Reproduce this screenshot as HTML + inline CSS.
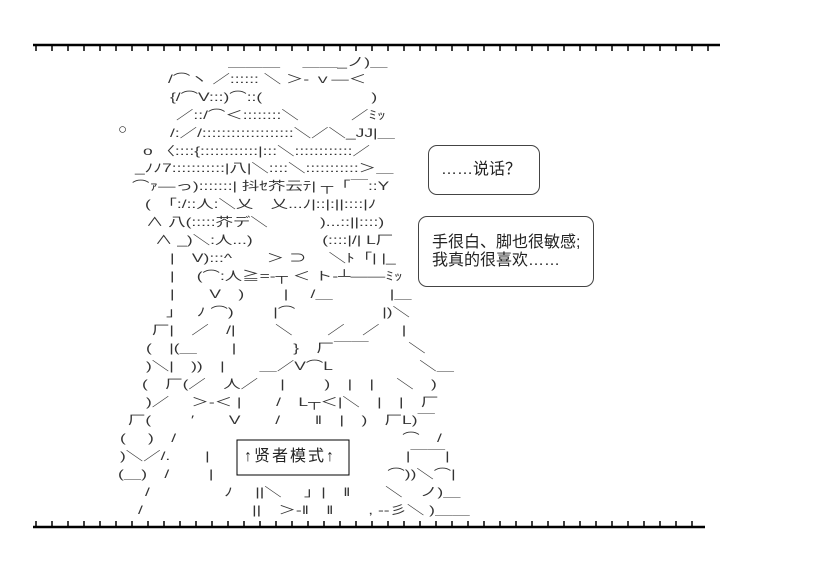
<!DOCTYPE html>
<html><head><meta charset="utf-8"><style>
html,body{margin:0;padding:0;background:#fff;}
body{width:816px;height:568px;position:relative;overflow:hidden;}
.l{position:absolute;white-space:pre;font-family:"Liberation Sans","Noto Sans CJK JP",sans-serif;font-size:12px;line-height:14px;color:#333;transform:scaleX(1.45);transform-origin:0 0;}
.t{position:absolute;white-space:pre;font-family:"Liberation Sans","Noto Sans CJK SC",sans-serif;font-size:16px;line-height:18px;color:#222;}
.b{position:absolute;border:1.2px solid #444;border-radius:9px;}
</style></head><body>
<svg width="816" height="568" style="position:absolute;left:0;top:0">
<g stroke="#000" fill="none">
<line x1="33" y1="45" x2="720" y2="45" stroke-width="2.5"/>
<path d="M36 45v6 M52 45v6 M68 45v6 M84 45v6 M100 45v6 M116 45v6 M132 45v6 M148 45v6 M164 45v6 M180 45v6 M196 45v6 M212 45v6 M228 45v6 M244 45v6 M260 45v6 M276 45v6 M292 45v6 M308 45v6 M324 45v6 M340 45v6 M356 45v6 M372 45v6 M388 45v6 M404 45v6 M420 45v6 M436 45v6 M452 45v6 M468 45v6 M484 45v6 M500 45v6 M516 45v6 M532 45v6 M548 45v6 M564 45v6 M580 45v6 M596 45v6 M612 45v6 M628 45v6 M644 45v6 M660 45v6 M676 45v6 M692 45v6 M708 45v6" stroke-width="1.5"/>
<line x1="33" y1="527" x2="705" y2="527" stroke-width="2.5"/>
<path d="M36 527v-6 M52 527v-6 M68 527v-6 M84 527v-6 M100 527v-6 M116 527v-6 M132 527v-6 M148 527v-6 M164 527v-6 M180 527v-6 M196 527v-6 M212 527v-6 M228 527v-6 M244 527v-6 M260 527v-6 M276 527v-6 M292 527v-6 M308 527v-6 M324 527v-6 M340 527v-6 M356 527v-6 M372 527v-6 M388 527v-6 M404 527v-6 M420 527v-6 M436 527v-6 M452 527v-6 M468 527v-6 M484 527v-6 M500 527v-6 M516 527v-6 M532 527v-6 M548 527v-6 M564 527v-6 M580 527v-6 M596 527v-6 M612 527v-6 M628 527v-6 M644 527v-6 M660 527v-6 M676 527v-6 M692 527v-6" stroke-width="1.5"/>
<rect x="237" y="440" width="112" height="35" stroke-width="1"/>
</g></svg>
<div class="b" style="left:428px;top:145px;width:110px;height:48px"></div>
<div class="b" style="left:418px;top:216px;width:174px;height:69px"></div>
<div class="t" style="left:441px;top:161px">……说话？</div>
<div class="t" style="left:432px;top:234px">手很白、脚也很敏感;</div>
<div class="t" style="left:432px;top:252px">我真的很喜欢……</div>
<div class="t" style="left:244px;top:448px;letter-spacing:2px">↑贤者模式↑</div>
<div class="l" style="left:228px;top:55px">＿＿＿　 ＿＿_ノ)＿</div>
<div class="l" style="left:168px;top:72px">/⌒ヽ ／:::::: ＼ ＞- ｖ―＜</div>
<div class="l" style="left:170px;top:90px">{/⌒V:::)⌒::(　　　　　　 )</div>
<div class="l" style="left:176px;top:108px">／::/⌒＜::::::::＼　　　／ﾐｯ</div>
<div class="l" style="left:118px;top:123px;font-size:15px;transform:none">○</div>
<div class="l" style="left:170px;top:126px">/:／/:::::::::::::::::::＼／＼_JJ|＿</div>
<div class="l" style="left:143px;top:144px">o 〈::::{::::::::::::|:::＼::::::::::::／</div>
<div class="l" style="left:135px;top:161px">_ﾉﾉ7:::::::::::|八|＼::::＼:::::::::::＞＿</div>
<div class="l" style="left:132px;top:179px">⌒ｧ―っ):::::::| 抖ｾ芥云ﾃ| ┬「￣::Y</div>
<div class="l" style="left:145px;top:197px">(　「:/::人:＼乂　乂...ﾉ|::|:||::::|ﾉ</div>
<div class="l" style="left:146px;top:215px">∧ 八(:::::芥デ＼　　　)...::||::::)</div>
<div class="l" style="left:155px;top:233px">∧ _)＼:人...)　　　　(::::|/| L厂</div>
<div class="l" style="left:170px;top:251px">|　V):::^　　＞ ⊃　 ＼ﾄ「| |_</div>
<div class="l" style="left:170px;top:269px">|　 (⌒:人≧=-┬ ＜ ト-┴――ﾐｯ</div>
<div class="l" style="left:170px;top:287px">|　　V　)　　 |　 /＿　　　 |＿</div>
<div class="l" style="left:166px;top:305px">」　 ﾉ ⌒)　　 |⌒　　　　　|)＼</div>
<div class="l" style="left:152px;top:323px">厂|　／　/|　　 ＼　　／　／　 |</div>
<div class="l" style="left:146px;top:341px">(　|(＿　　|　　　 }　厂￣￣　　 ＼</div>
<div class="l" style="left:146px;top:359px">)＼|　))　|　　＿／V⌒L　　　　　＼＿</div>
<div class="l" style="left:142px;top:377px">(　厂(／　人／　 |　　 )　|　|　 ＼　)</div>
<div class="l" style="left:146px;top:395px">)／　 ＞-＜ |　　/　L┬＜|＼　|　|　厂</div>
<div class="l" style="left:128px;top:413px">厂(　　 ′　　V　　/　　‖　|　)　厂L)￣</div>
<div class="l" style="left:120px;top:431px">(　 )　/　　　　　　　　　　　　　⌒　/</div>
<div class="l" style="left:120px;top:449px">)＼／/.　　|　　　　　　　　　　　 |￣￣|</div>
<div class="l" style="left:118px;top:467px">(＿)　/　　 |　　　　　　　　　　⌒))＼⌒|</div>
<div class="l" style="left:145px;top:485px">/　　　　 ﾉ　 ||＼　 」|　‖　　＼　ノ)＿</div>
<div class="l" style="left:138px;top:503px">/　　　　　　 ||　＞-‖　‖　　, --彡＼ )＿＿</div>
</body></html>
